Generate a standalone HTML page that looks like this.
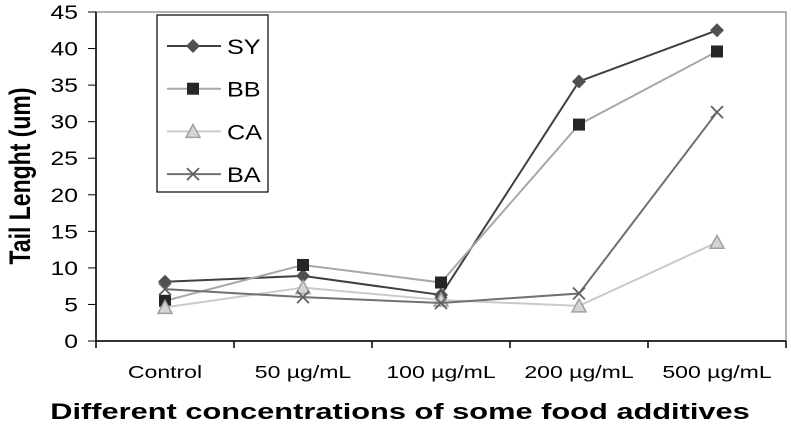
<!DOCTYPE html>
<html><head><meta charset="utf-8"><style>
body{margin:0;background:#fff}
svg text{font-family:"Liberation Sans",sans-serif}
</style></head><body>
<svg id="chart" width="791" height="424">
<rect x="96" y="12" width="690" height="329" fill="none" stroke="#999" stroke-width="1.5"/>
<g id="axes"></g><g id="series"></g>
<text x="0" y="0" transform="translate(30,176) rotate(-90) scale(1,1.3)" text-anchor="middle" font-size="23" font-weight="bold">Tail Lenght (um)</text>
<text x="0" y="0" transform="translate(400,419) scale(1.4,1)" text-anchor="middle" font-size="22" font-weight="bold">Different concentrations of some food additives</text>
<g>
<rect x="157" y="15" width="111" height="177" fill="#fff" stroke="#000" stroke-width="1.2"/>
<g id="legend"></g>
</g>
</svg>
<script>
const categories=["Control","50 µg/mL","100 µg/mL","200 µg/mL","500 µg/mL"];
const yTicks=[0,5,10,15,20,25,30,35,40,45];
const seriesNames=["SY","BB","CA","BA"];
const sy=[8.1,8.9,6.3,35.5,42.5];
const bb=[5.5,10.4,8.0,29.6,39.6];
const ca=[4.6,7.3,5.6,4.8,13.5];
const ba=[7.1,6.0,5.2,6.5,31.3];
const NS="http://www.w3.org/2000/svg";
const x0=96,x1=786,y0=341,y1=12;
const bw=(x1-x0)/categories.length;
const X=i=>x0+bw*(i+0.5);
const Y=v=>y0-(v/45)*(y0-y1);
function mk(t,a,p){const e=document.createElementNS(NS,t);for(const k in a)e.setAttribute(k,a[k]);p.appendChild(e);return e;}
const ax=document.getElementById('axes');
let l=mk('line',{x1:x0,y1:y1,x2:x0,y2:y0,stroke:'#000','stroke-width':1.5},ax);


l=mk('line',{x1:x0,y1:y0,x2:x1,y2:y0,stroke:'#000','stroke-width':1.5},ax);


yTicks.forEach(v=>{mk('line',{x1:x0-8,y1:Y(v),x2:x0,y2:Y(v),stroke:'#000'},ax);
const t=mk('text',{x:0,y:0,transform:`translate(${x0-18},${Y(v)+7}) scale(1.3,1)`,'text-anchor':'end','font-size':19},ax);t.textContent=v;

});
for(let i=0;i<=categories.length;i++)mk('line',{x1:x0+bw*i,y1:y0,x2:x0+bw*i,y2:y0+7,stroke:'#000','stroke-width':1.5},ax);
categories.forEach((c,i)=>{const t=mk('text',{x:0,y:0,transform:`translate(${X(i)},378) scale(1.28,1)`,'text-anchor':'middle','font-size':18},ax);t.textContent=c;

});
const styles=[{line:'#404040',mk:'diamond',fill:'#505050',stroke:'#505050'},{line:'#a8a8a8',mk:'square',fill:'#262626',stroke:'#262626'},{line:'#cacaca',mk:'tri',fill:'#d4d4d4',stroke:'#a0a0a0'},{line:'#707070',mk:'x',fill:'none',stroke:'#606060'}];
function marker(type,cx,cy,s,g){
if(type==='diamond')return mk('polygon',{points:`${cx},${cy-7} ${cx+7},${cy} ${cx},${cy+7} ${cx-7},${cy}`,fill:s.fill},g);
if(type==='square')return mk('rect',{x:cx-6,y:cy-6,width:12,height:12,fill:s.fill},g);
if(type==='tri')return mk('polygon',{points:`${cx},${cy-7} ${cx+7},${cy+6} ${cx-7},${cy+6}`,fill:s.fill,stroke:s.stroke,'stroke-width':1.5},g);
return mk('path',{d:`M${cx-6},${cy-6}L${cx+6},${cy+6}M${cx+6},${cy-6}L${cx-6},${cy+6}`,stroke:s.stroke,'stroke-width':1.8},g);}
const sg=document.getElementById('series');
[sy,bb,ca,ba].forEach((d,k)=>{const s=styles[k];const g=mk('g',{},sg);


mk('polyline',{points:d.map((v,i)=>X(i)+','+Y(v)).join(' '),fill:'none',stroke:s.line,'stroke-width':2},g);
d.forEach((v,i)=>{const m=marker(s.mk,X(i),Y(v),s,g);

});});
const lg=document.getElementById('legend');
seriesNames.forEach((n,k)=>{const s=styles[k];const y=46+k*42.7;const g=mk('g',{},lg);


mk('line',{x1:167,y1:y,x2:221,y2:y,stroke:s.line,'stroke-width':2},g);
marker(s.mk,193,y,s,g);
const t=mk('text',{x:0,y:0,transform:`translate(227,${y+8}) scale(1.2,1)`,'font-size':21},g);t.textContent=n;});
</script>
</body></html>
